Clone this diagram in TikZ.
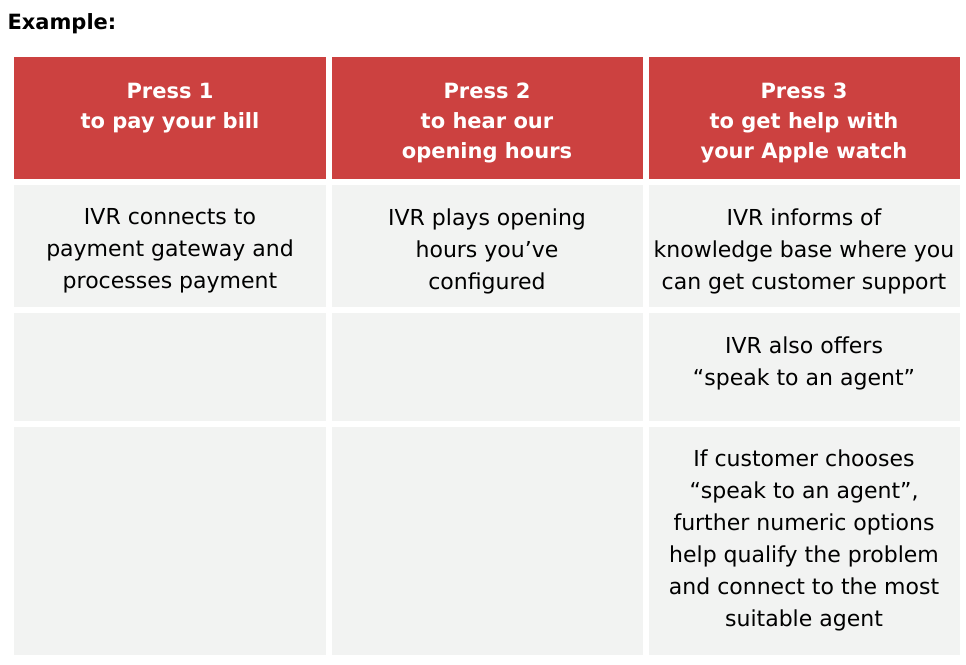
\documentclass[tikz,border=0pt]{standalone}
\usepackage{fontspec}
\setmainfont{DejaVu Sans}
\definecolor{hdr}{HTML}{CC4140}
\definecolor{bdy}{HTML}{F2F3F2}
\begin{document}
\begin{tikzpicture}[x=1pt,y=-1pt,
  htxt/.style={text=white,font=\fontsize{21}{30}\selectfont\bfseries,align=center},
  btxt/.style={text=black,font=\fontsize{22}{32}\selectfont,align=center}]
\useasboundingbox (0,0) rectangle (966,664);
\node[anchor=west,font=\fontsize{21}{24}\selectfont\bfseries] (ex) at (4,24) {Example:};
\foreach \xa/\xb [count=\c] in {14/326,332/643,649/960}{
  \fill[hdr] (\xa,57) rectangle (\xb,179);
  \fill[bdy] (\xa,185) rectangle (\xb,307);
  \fill[bdy] (\xa,313) rectangle (\xb,421);
  \fill[bdy] (\xa,427) rectangle (\xb,655);
}
\node[htxt] (h1) at (170,108) {Press 1\\to pay your bill};
\node[htxt] (h2) at (487,123) {Press 2\\to hear our\\opening hours};
\node[htxt] (h3) at (804,123) {Press 3\\to get help with\\your Apple watch};
\node[btxt] (b1) at (170,251) {IVR connects to\\payment gateway and\\processes payment};
\node[btxt] (b2) at (487,251) {IVR plays opening\\hours you’ve\\configured};
\node[btxt] (b3) at (804,251) {IVR informs of\\knowledge base where you\\can get customer support};
\node[btxt] (c3) at (804,363) {IVR also offers\\“speak to an agent”};
\node[btxt] (d3) at (804,540) {If customer chooses\\“speak to an agent”,\\further numeric options\\help qualify the problem\\and connect to the most\\suitable agent};
\end{tikzpicture}
\end{document}
